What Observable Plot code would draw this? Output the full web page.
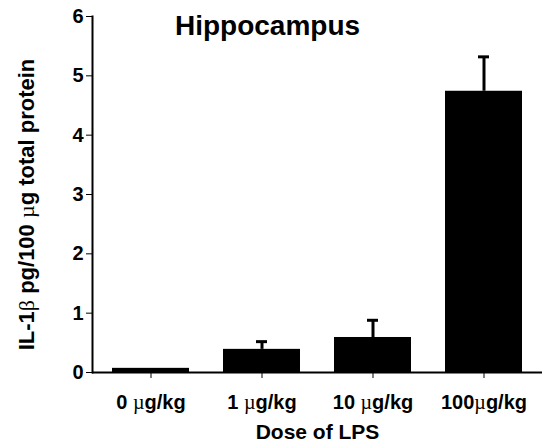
<!DOCTYPE html>
<html><head><meta charset="utf-8">
<script src="https://cdn.jsdelivr.net/npm/d3@7"></script>
<script src="https://cdn.jsdelivr.net/npm/@observablehq/plot@0.6"></script>
<style>body{margin:0;background:#fff}</style>
</head><body><div id="chart"></div>
<script>
const doses = ["0 µg/kg", "1 µg/kg", "10 µg/kg", "100µg/kg"];
const means = [0.07, 0.39, 0.59, 4.74];
const errors = [0, 0.13, 0.29, 0.58];
const yTicks = [0, 1, 2, 3, 4, 5, 6];
const title = "Hippocampus";
const yLabel = "IL-1β pg/100 µg total protein";
const xLabel = "Dose of LPS";

const data = doses.map((d, i) => ({dose: d, mean: means[i], err: errors[i], top: means[i] + errors[i]}));
const errData = data.filter(d => d.err > 0);

const chart = Plot.plot({
  width: 543, height: 444,
  marginTop: 16, marginBottom: 72, marginLeft: 92, marginRight: 1,
  style: {fontFamily: "'Liberation Sans', Arial, sans-serif", fontWeight: "bold", background: "#fff", color: "#000"},
  x: {domain: doses, paddingInner: 0.31, paddingOuter: 0.17},
  y: {domain: [0, 6]},
  marks: [
    Plot.barY(data, {x: "dose", y: "mean", fill: "#000"}),
    Plot.ruleX(errData, {x: "dose", y1: "mean", y2: "top", stroke: "#000", strokeWidth: 3}),
    Plot.tickY(errData, {x: "dose", y: "top", stroke: "#000", strokeWidth: 3, insetLeft: 33, insetRight: 33}),
    Plot.ruleY([0], {stroke: "#000", strokeWidth: 2}),
    Plot.frame({anchor: "left", stroke: "#000", strokeWidth: 2}),
    Plot.axisY({ticks: yTicks, tickFormat: d3.format("d"), tickSize: 6, tickPadding: 3, fontSize: 20, label: yLabel, labelAnchor: "center", labelArrow: "none", labelOffset: 74}),
    Plot.axisX({tickSize: 6, tickPadding: 16, fontSize: 20, label: xLabel, labelAnchor: "center", labelArrow: "none", labelOffset: 66}),
    Plot.text([title], {frameAnchor: "top", dx: -50, dy: -1, fontSize: 28, fill: "#000"})
  ]
});
// axis-title sizes and non-bold Greek letters (as in the original figure)
chart.querySelectorAll("text").forEach(t => {
  const s = t.textContent;
  if (s === yLabel) { t.setAttribute("font-size", 22); t.setAttribute("dx", -10); }
  if (s === xLabel) t.setAttribute("font-size", 21);
  if (t.children.length === 0 && /[µβ]/.test(s)) {
    t.textContent = "";
    for (const part of s.split(/([µβ])/)) {
      if (!part) continue;
      const ts = document.createElementNS("http://www.w3.org/2000/svg", "tspan");
      ts.textContent = part;
      if (/[µβ]/.test(part)) { ts.setAttribute("font-weight", "normal"); ts.setAttribute("font-family", "'Liberation Serif', serif"); }
      t.appendChild(ts);
    }
  }
});
document.getElementById("chart").appendChild(chart);
</script>
</body></html>
